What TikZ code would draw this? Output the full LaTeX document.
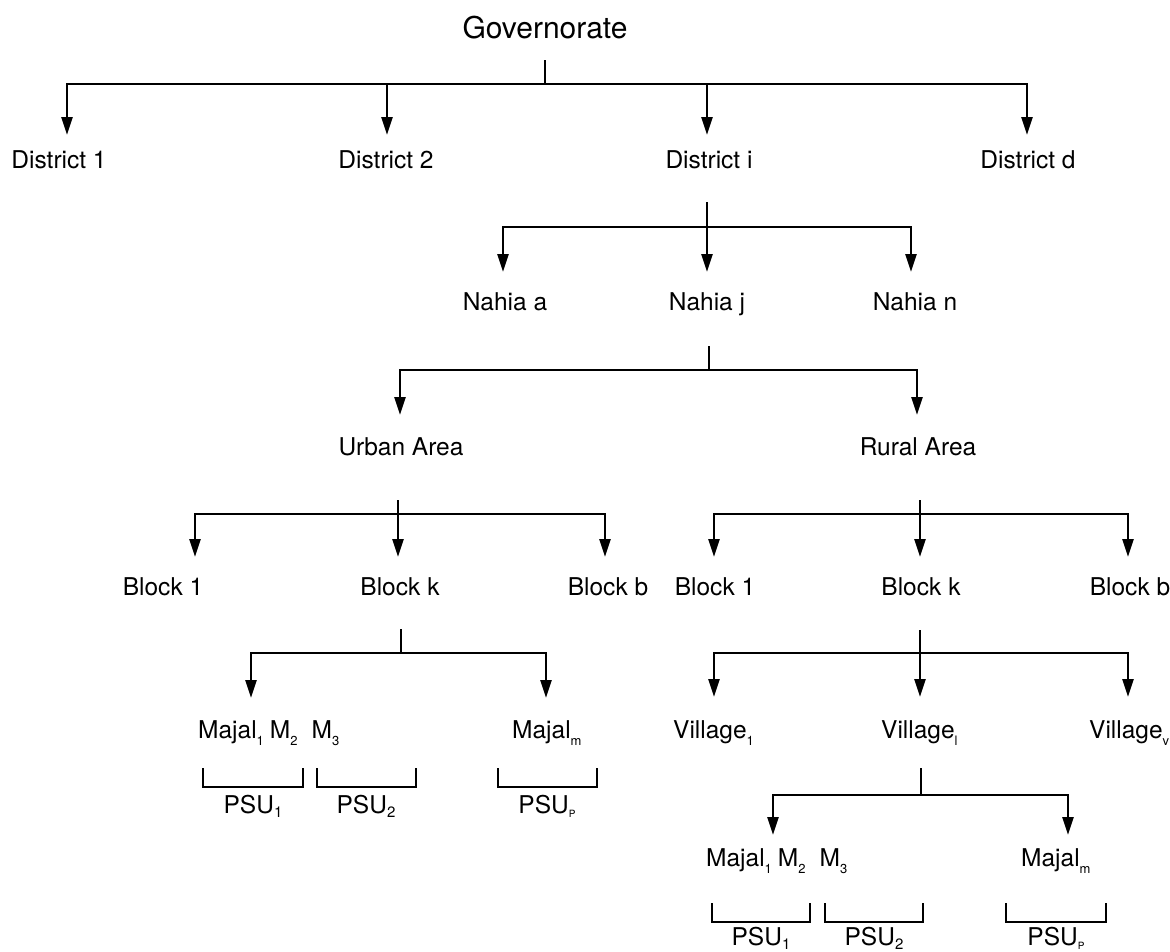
\documentclass[tikz,border=0pt]{standalone}
\usepackage{fontspec}
\setmainfont{TeX Gyre Heros}
\usepackage{tikz}
\usetikzlibrary{arrows.meta,positioning}

\newcommand{\lowsub}[2][13]{\raisebox{-7pt}{\fontsize{#1}{#1}\selectfont #2}}
\newcommand{\psusub}[2][15]{\raisebox{-4pt}{\fontsize{#1}{#1}\selectfont #2}}

\begin{document}
\begin{tikzpicture}[
    x=1pt, y=-1pt,
    lbl/.style={anchor=base, inner sep=0pt, font=\fontsize{24.5}{29}\selectfont},
    lblw/.style={lbl, anchor=base west},
    line/.style={line width=2.6pt},
    arrow/.style={line width=2.6pt, -{Triangle[length=18pt,width=11pt]}},
    bracket/.style={line width=2.6pt}
]
\useasboundingbox (0,0) rectangle (1170,951);

% Governorate
\node[lbl, font=\fontsize{30}{34}\selectfont] (gov) at (545,38) {Governorate};

% Districts
\node[lbl] (dist1) at (59,168) {District 1};
\node[lbl] (dist2) at (386,168) {District 2};
\node[lbl] (disti) at (709,168) {District i};
\node[lbl] (distd) at (1028,168) {District d};

% Nahias
\node[lbl] (nahiaa) at (505,310) {Nahia a};
\node[lbl] (nahiaj) at (707,310) {Nahia j};
\node[lbl] (nahian) at (915,310) {Nahia n};

% Areas
\node[lbl] (urban) at (401,455) {Urban Area};
\node[lbl] (rural) at (918,455) {Rural Area};

% Urban blocks
\node[lbl] (ublock1) at (163,595) {Block 1};
\node[lbl] (ublockk) at (400,595) {Block k};
\node[lbl] (ublockb) at (608,595) {Block b};

% Rural blocks
\node[lbl] (rblock1) at (715,595) {Block 1};
\node[lbl] (rblockk) at (921,595) {Block k};
\node[lbl] (rblockb) at (1130,595) {Block b};

% Majals (urban)
\node[lblw] (umajal) at (198,738) {Majal\lowsub{1}\hspace{6pt}M\lowsub{2}\hspace{14pt}M\lowsub{3}};
\node[lblw] (umajalm) at (512,738) {Majal\lowsub{m}};

% Villages
\node[lblw] (vil1) at (673,738) {Village\lowsub{1}};
\node[lblw] (vill) at (881,738) {Village\lowsub{l}};
\node[lblw] (vilv) at (1089,738) {Village\lowsub{v}};

% Majals (rural)
\node[lblw] (rmajal) at (706,866) {Majal\lowsub{1}\hspace{6pt}M\lowsub{2}\hspace{14pt}M\lowsub{3}};
\node[lblw] (rmajalm) at (1021,866) {Majal\lowsub{m}};

% PSUs
\node[lbl] (upsu1) at (253,813) {PSU\psusub{1}};
\node[lbl] (upsu2) at (366,813) {PSU\psusub{2}};
\node[lbl] (upsup) at (547,813) {PSU\psusub[10]{P}};
\node[lbl] (rpsu1) at (761,945) {PSU\psusub{1}};
\node[lbl] (rpsu2) at (874,945) {PSU\psusub{2}};
\node[lbl] (rpsup) at (1056,945) {PSU\psusub[10]{P}};

% Branch points
\coordinate (gtop) at (545,60);   \coordinate (gjoin) at (545,84);
\coordinate (dtop) at (707,202);  \coordinate (djoin) at (707,227);
\coordinate (ntop) at (709,346);  \coordinate (njoin) at (709,370);
\coordinate (utop) at (398,500);  \coordinate (ujoin) at (398,514);
\coordinate (rtop) at (920,500);  \coordinate (rjoin) at (920,514);
\coordinate (ubtop) at (401,629); \coordinate (ubjoin) at (401,653);
\coordinate (rbtop) at (920,630); \coordinate (rbjoin) at (920,653);
\coordinate (vtop) at (921,768);  \coordinate (vjoin) at (921,795);

% Arrow ends
\coordinate (e-dist1) at (67,135);
\coordinate (e-dist2) at (387,135);
\coordinate (e-disti) at (707,135);
\coordinate (e-distd) at (1027,135);
\coordinate (e-nahiaa) at (503,272);
\coordinate (e-nahiaj) at (707,272);
\coordinate (e-nahian) at (911,272);
\coordinate (e-urban) at (400,415);
\coordinate (e-rural) at (917,415);
\coordinate (e-ublock1) at (195,557);
\coordinate (e-ublockk) at (398,557);
\coordinate (e-ublockb) at (605,557);
\coordinate (e-rblock1) at (714,557);
\coordinate (e-rblockk) at (920,557);
\coordinate (e-rblockb) at (1128,557);
\coordinate (e-umajal) at (251,698);
\coordinate (e-umajalm) at (546,698);
\coordinate (e-vil1) at (714,697);
\coordinate (e-vill) at (920,697);
\coordinate (e-vilv) at (1128,697);
\coordinate (e-rmajal) at (773,835);
\coordinate (e-rmajalm) at (1068,835);

% Arrows
\draw[line] (gtop) -- (gjoin);
\draw[arrow] (gjoin) -| (e-dist1);
\draw[arrow] (gjoin) -| (e-dist2);
\draw[arrow] (gjoin) -| (e-disti);
\draw[arrow] (gjoin) -| (e-distd);

\draw[arrow] (dtop) -- (e-nahiaj);
\draw[arrow] (djoin) -| (e-nahiaa);
\draw[arrow] (djoin) -| (e-nahian);

\draw[line] (ntop) -- (njoin);
\draw[arrow] (njoin) -| (e-urban);
\draw[arrow] (njoin) -| (e-rural);

\draw[arrow] (utop) -- (e-ublockk);
\draw[arrow] (ujoin) -| (e-ublock1);
\draw[arrow] (ujoin) -| (e-ublockb);

\draw[arrow] (rtop) -- (e-rblockk);
\draw[arrow] (rjoin) -| (e-rblock1);
\draw[arrow] (rjoin) -| (e-rblockb);

\draw[line] (ubtop) -- (ubjoin);
\draw[arrow] (ubjoin) -| (e-umajal);
\draw[arrow] (ubjoin) -| (e-umajalm);

\draw[arrow] (rbtop) -- (e-vill);
\draw[arrow] (rbjoin) -| (e-vil1);
\draw[arrow] (rbjoin) -| (e-vilv);

\draw[line] (vtop) -- (vjoin);
\draw[arrow] (vjoin) -| (e-rmajal);
\draw[arrow] (vjoin) -| (e-rmajalm);

% PSU brackets
\draw[bracket] (203,768) |- (303,787) -- (303,768);
\draw[bracket] (317,768) |- (416,787) -- (416,768);
\draw[bracket] (498,768) |- (597,787) -- (597,768);
\draw[bracket] (712,903) |- (810,922) -- (810,903);
\draw[bracket] (825,903) |- (923,922) -- (923,903);
\draw[bracket] (1006,903) |- (1106,922) -- (1106,903);

\end{tikzpicture}
\end{document}
